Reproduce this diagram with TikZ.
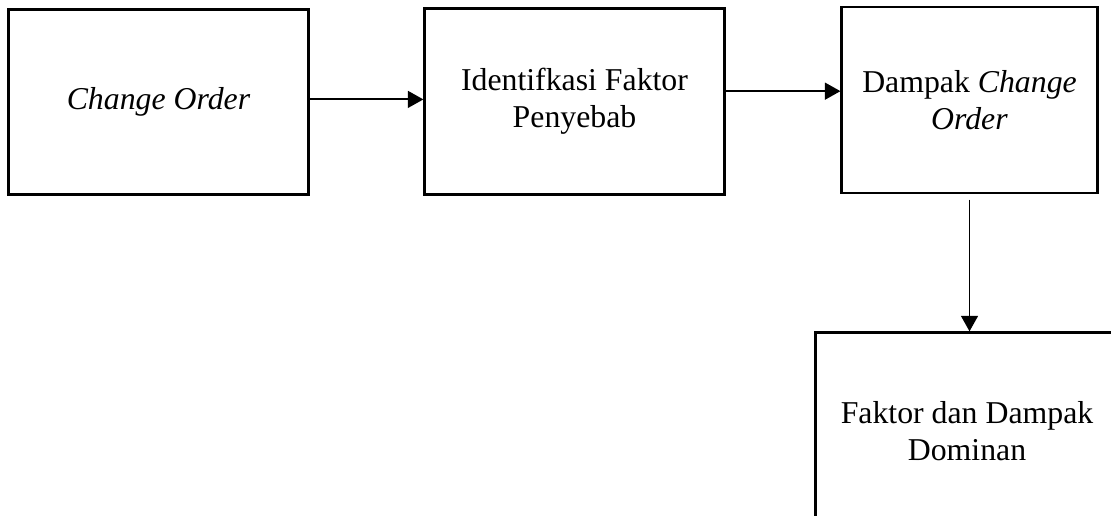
\documentclass[tikz,border=0pt]{standalone}
\usepackage{fontspec}
\setmainfont{Liberation Serif}
\usetikzlibrary{arrows.meta, positioning}
\tikzset{
  kotak/.style={rectangle, draw=black, line width=1.15pt, inner sep=0pt,
                text centered, align=center, font=\fontsize{12.3}{14.4}\selectfont},
  panah/.style={line width=0.75pt, -{Triangle[length=6pt,width=6.5pt]}}
}
\begin{document}
\begin{tikzpicture}[x=0.387pt, y=-0.387pt]
  \useasboundingbox (0,0) rectangle (1111,516);
  \node (co) [kotak, minimum width=4.07cm, minimum height=2.51cm] at (158.5,102) {\textit{Change Order}};
  \node (faktor) [kotak, minimum width=4.07cm, minimum height=2.52cm] at (574.5,101.5) {Identifkasi Faktor\\Penyebab};
  \node (dampak) [kotak, minimum width=3.47cm, minimum height=2.53cm] at (969.5,100) {Dampak \textit{Change}\\\textit{Order}};
  \node (dominan) [kotak, minimum width=4.11cm, minimum height=2.67cm] at (967,431) {Faktor dan Dampak\\Dominan};
  \draw [panah] ([yshift=1pt]co.east) -- ([yshift=1pt]co.east -| faktor.west);
  \draw [panah] ([yshift=4pt]faktor.east) -- ([yshift=4pt]faktor.east -| dampak.west);
  \draw [panah] ([yshift=-2pt]dampak.south) -- (dampak.south |- dominan.north);
\end{tikzpicture}
\end{document}
